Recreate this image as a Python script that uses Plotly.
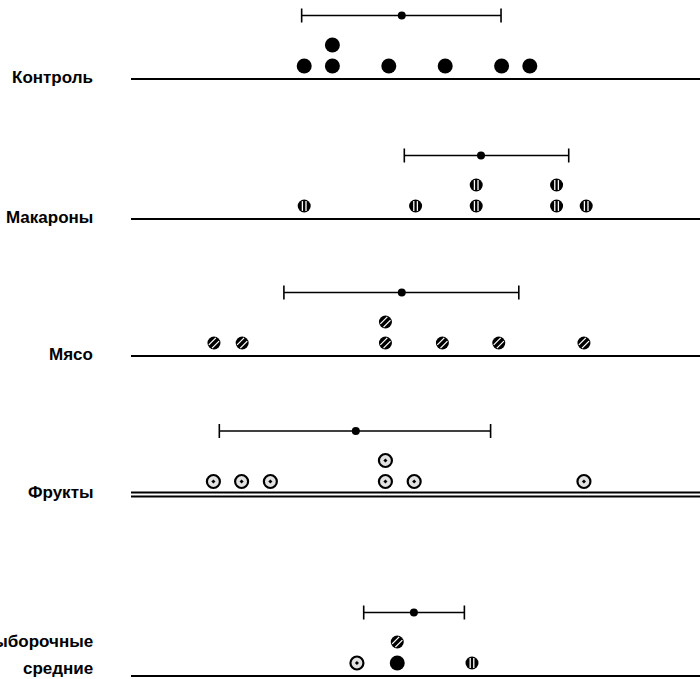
import plotly.graph_objects as go

# ---------------- data ----------------
group_names = ["Контроль", "Макароны", "Мясо", "Фрукты"]
control = [6.0, 7.0, 7.0, 9.0, 11.0, 13.0, 14.0]
macaroni = [6.0, 9.95, 12.1, 12.1, 14.95, 14.95, 16.0]
meat = [2.8, 3.8, 8.88, 8.88, 10.9, 12.9, 15.92]
fruit = [2.78, 3.78, 4.8, 8.88, 8.88, 9.9, 15.92]

group_mean = [9.46, 12.27, 9.46, 7.83]
group_low = [5.91, 9.55, 5.28, 2.99]
group_high = [12.98, 15.38, 13.61, 12.61]

# sample means row (order = stacking order from bottom)
means_label = ["Выборочные", "средние"]
means_styles = ["fruit", "control", "meat", "macaroni"]
means_values = [7.87, 9.3, 9.3, 11.95]
means_mean = 9.89
means_low = 8.11
means_high = 11.68

# ---------------- layout constants ----------------
W, H = 700, 679
PX = 28.2          # pixels per data unit
X0PX = 135         # pixel position of value 0
XMIN = -X0PX / PX
XMAX = (W - X0PX) / PX
LINE_START = 131 / W
LABEL_RIGHT = 95 / W
baselines = [79, 219, 356, 494.5, 676]
DOT_OFF = 13
STACK = 21
BAR_OFF = 63.5

fig = go.Figure()


def stack_levels(values):
    seen = {}
    levels = []
    for v in values:
        k = round(v, 1)
        levels.append(seen.get(k, 0))
        seen[k] = seen.get(k, 0) + 1
    return levels


def add_dot(x, y, style):
    if style == "control":
        fig.add_trace(go.Scatter(x=[x], y=[y], mode="markers",
                                 marker=dict(symbol="circle", size=15, color="black",
                                             line=dict(width=0))))
    elif style == "macaroni":
        fig.add_trace(go.Scatter(x=[x], y=[y], mode="markers",
                                 marker=dict(symbol="circle", size=13, color="black",
                                             line=dict(width=0))))
        for dx in (-1.8, 1.8):
            fig.add_trace(go.Scatter(x=[x + dx / PX], y=[y], mode="markers",
                                     marker=dict(symbol="line-ns", size=7,
                                                 line=dict(color="white", width=1.3))))
    elif style == "meat":
        fig.add_trace(go.Scatter(x=[x], y=[y], mode="markers",
                                 marker=dict(symbol="circle", size=13, color="black",
                                             line=dict(width=0))))
        for d in (-1.6, 1.6):
            fig.add_trace(go.Scatter(x=[x + d / PX], y=[y + d], mode="markers",
                                     marker=dict(symbol="line-ne", size=7,
                                                 line=dict(color="white", width=1.3))))
    elif style == "fruit":
        fig.add_trace(go.Scatter(x=[x], y=[y], mode="markers",
                                 marker=dict(symbol="circle-dot", size=13, color="#e2e2e2",
                                             line=dict(color="black", width=2.2))))


def add_bar(mean, low, high, y):
    fig.add_trace(go.Scatter(
        x=[mean], y=[y], mode="markers",
        marker=dict(symbol="circle", size=8, color="black"),
        error_x=dict(type="data", symmetric=False, array=[high - mean],
                     arrayminus=[mean - low], color="black", thickness=1.6, width=7)))


def add_baseline(y, double=False):
    ys = [y - 2, y + 2] if double else [y]
    for yy in ys:
        fig.add_shape(type="line", xref="paper", yref="y", x0=LINE_START, x1=1,
                      y0=yy, y1=yy, line=dict(color="black", width=1.8 if double else 2))


def add_label(text, y, size=17):
    fig.add_annotation(x=LABEL_RIGHT, y=y, xref="paper", yref="y", text="<b>" + text + "</b>",
                       showarrow=False, xanchor="right", yanchor="middle",
                       font=dict(family="Liberation Sans, Arial, sans-serif", size=size, color="black"))


groups = [(control, "control"), (macaroni, "macaroni"), (meat, "meat"), (fruit, "fruit")]
for i, (vals, style) in enumerate(groups):
    base = baselines[i]
    add_baseline(base, double=(style == "fruit"))
    add_label(group_names[i], base - 2)
    for v, lvl in zip(vals, stack_levels(vals)):
        add_dot(v, base - DOT_OFF - STACK * lvl, style)
    add_bar(group_mean[i], group_low[i], group_high[i], base - BAR_OFF)

# sample means row
base = baselines[4]
add_baseline(base)
add_label(means_label[0], base - 35)
add_label(means_label[1], base - 8)
for v, lvl, st in zip(means_values, stack_levels(means_values), means_styles):
    add_dot(v, base - DOT_OFF - STACK * lvl, st)
add_bar(means_mean, means_low, means_high, base - BAR_OFF)

fig.update_layout(
    width=W, height=H,
    margin=dict(l=0, r=0, t=0, b=0),
    paper_bgcolor="white", plot_bgcolor="white",
    showlegend=False, hovermode=False,
    xaxis=dict(range=[XMIN, XMAX], visible=False, fixedrange=True),
    yaxis=dict(range=[H, 0], visible=False, fixedrange=True),
)

fig.write_html("out.html", config={"displayModeBar": False},
               post_script="document.body.style.margin='0px';")
